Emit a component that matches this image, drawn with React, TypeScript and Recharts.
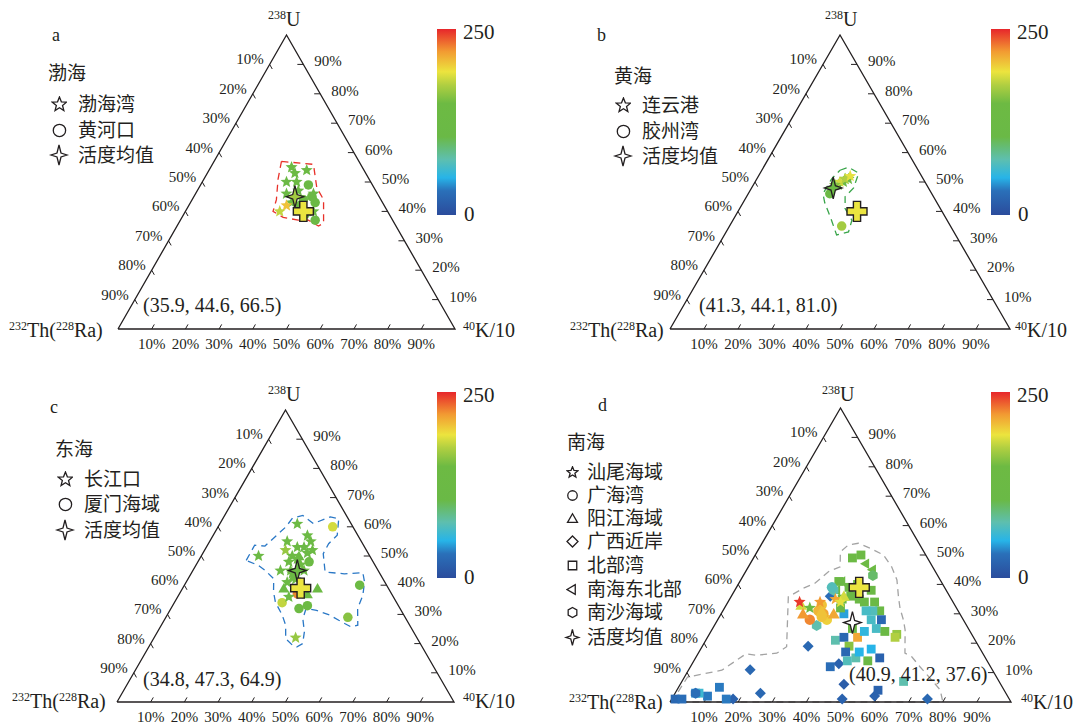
import React from 'react';
import { ScatterChart, Scatter, XAxis, YAxis } from 'recharts';

const SERIF = '"Liberation Serif", "Times New Roman", serif';
const CJK = '"Liberation Serif", "Noto Sans CJK SC", "Noto Sans CJK JP", serif';
const INK = '#231f20';

const TICK_LABELS = ['10%', '20%', '30%', '40%', '50%', '60%', '70%', '80%', '90%'];
const SCALE_MAX = 250;

// colour bar stops, bottom (0) to top (1)
const CMAP_STOPS: [number, string][] = [
  [0, '#2b4c9c'],
  [0.13, '#2a70b9'],
  [0.2, '#27b4e8'],
  [0.3, '#5ebfae'],
  [0.42, '#6ab946'],
  [0.6, '#6dba43'],
  [0.7, '#b1cf41'],
  [0.77, '#ece43e'],
  [0.88, '#f29a32'],
  [1, '#e7262b'],
];

// points are [U %, K/10 %, activity]; Th makes up the rest
const BOHAI_BAY = [
  [55, 24, 130], [53, 26, 140], [54, 29, 130], [50, 25, 125], [50, 28, 130], [46, 27, 135],
  [46, 35, 125], [43, 30, 145], [42, 29, 205], [40, 28, 180], [40, 38, 130], [47, 30, 125],
];
const YELLOW_RIVER_MOUTH = [
  [49, 32, 125], [43, 37, 125], [45, 35, 125], [37, 40, 125], [42, 33, 120], [39, 36, 125], [44, 33, 130],
];
const BOHAI_MEAN = [45, 30, 170];
const BOHAI_CROSS = [40, 35];
const BOHAI_OUTLINE = [
  [57, 20], [56, 30], [48, 35], [44, 39], [36, 43], [35, 42], [37, 38], [37, 35], [38, 30], [40, 26], [44, 25], [51, 22],
];

const LIANYUNGANG = [
  [49, 25, 130], [50, 26, 125], [51, 26, 130], [51, 27, 140], [50, 25, 185], [51, 26, 175], [52, 27, 190], [49, 24, 160],
];
const JIAOZHOU_BAY = [[46, 24, 125], [35, 33, 170]];
const YELLOW_MEAN = [48, 24, 130];
const YELLOW_CROSS = [40, 35];
const YELLOW_OUTLINE = [
  [54, 23], [55, 25], [53, 29], [48, 30], [45, 29], [41, 31], [37, 35], [33, 36], [32, 33], [37, 29], [43, 24], [46, 22], [51, 22],
];

const YANGTZE_MOUTH = [
  [61, 23, 130], [57, 28, 130], [55, 23, 130], [55, 30, 130], [53, 27, 130], [52, 24, 165], [52, 32, 135],
  [50, 17, 130], [50, 27, 130], [51, 31, 130], [49, 29, 130], [48, 27, 130], [45, 26, 130], [45, 29, 130],
  [45, 33, 130], [42, 32, 130], [41, 30, 130], [36, 33, 140], [22, 42, 165], [53, 29, 125], [47, 31, 150], [44, 30, 140],
];
const XIAMEN = [
  [60, 34, 185], [48, 33, 130], [40, 52, 135], [34, 32, 180], [32, 38, 150], [33, 40, 145], [29, 54, 160], [37, 35, 225],
];
const EAST_TRIANGLES = [[39, 40, 140], [39, 30, 135], [37, 38, 130], [50, 29, 135], [43, 31, 130]];
const EAST_MEAN = [45, 31, 135];
const EAST_CROSS = [39, 35];
const EAST_OUTLINE = [
  [48.5, 14.1], [53.7, 14], [53.4, 17.2], [59.9, 20.1], [63, 20.6], [63.9, 23.2], [61.1, 27.7], [63.4, 31.6],
  [62.8, 34.4], [57.1, 36.8], [54.2, 35.7], [50.8, 35.8], [44.5, 39.5], [43.9, 45.5], [44.3, 50.8], [41.1, 52.9],
  [36.5, 54.7], [32, 55.4], [26.3, 58.3], [25.7, 56.6], [28, 51.8], [29.7, 48.4], [31.4, 43.5], [32, 40.1],
  [28.5, 40.9], [24, 43.6], [20, 45.1], [18.8, 43.9], [19.4, 42.4], [21.7, 39.2], [26.3, 36.9], [29.7, 34.2],
  [34.2, 29.9], [37.7, 27.6], [42.2, 25.4], [45.1, 21.4], [46.8, 18.5],
];

const SHANWEI = [[34, 21, 245], [34, 27, 220], [35, 31, 215], [32, 25, 130], [34, 33, 190]];
const GUANGHAI_BAY = [[39, 28, 70], [28, 27, 225], [28, 32, 200], [33, 28, 205], [31, 28, 210], [30, 30, 215], [29, 30, 205]];
const YANGJIANG = [[33, 22, 185], [30, 24, 220], [31, 29, 205], [30, 33, 215], [36, 33, 185]];
const GUANGXI = [
  [19, 31, 25], [13, 43, 20], [6, 48, 15], [2, 59, 20], [1, 75, 25], [1, 18, 20], [11, 18, 25], [3, 25, 25], [1, 50, 20], [36, 29, 30],
];
const BEIBU_GULF = [
  [49, 29, 130], [50, 31, 130], [41, 29, 125], [39, 33, 120], [40, 35, 125], [38, 40, 125], [35, 38, 120],
  [34, 43, 120], [31, 46, 115], [35, 33, 120], [36, 35, 115], [30, 36, 45], [28, 45, 65], [25, 48, 65],
  [28, 48, 25], [24, 51, 120], [23, 55, 165], [22, 55, 175], [22, 44, 215], [21, 38, 75], [22, 40, 25],
  [19, 43, 160], [18, 50, 50], [17, 43, 25], [15, 47, 75], [15, 54, 20], [14, 51, 115], [12, 41, 30],
  [4, 59, 20], [7, 65, 75], [1, 1, 25], [1, 3, 30], [3, 6, 40], [2, 10, 35], [5, 12, 35], [1, 16, 35],
  [34, 40, 120], [14, 45, 70], [17, 47, 50], [31, 44, 70], [31, 42, 65], [24, 45, 55], [25, 41, 120],
  [32, 34, 125], [3, 7, 60],
];
const NE_SOUTH_SEA = [[47, 34, 130], [45, 37, 130], [41, 30, 125], [38, 30, 140]];
const NANSHA = [[43, 38, 95], [26, 30, 75], [38, 29, 75], [3, 6, 30]];
const SOUTH_MEAN = [27, 40];
const SOUTH_CROSS = [39, 36];
const SOUTH_OUTLINE = [
  [0, 0.5], [8.5, 0.9], [10.8, 9.8], [16.4, 14.1], [15.9, 17.4], [16.6, 23], [18.8, 24.8], [35.8, 16.8],
  [38.7, 19.8], [40.4, 22.3], [44.3, 24.3], [46, 26.9], [51.1, 24.4], [53.4, 25.6], [54, 28.2], [52.3, 32.6],
  [50, 37.6], [46, 42], [41.5, 45.8], [35.8, 49.1], [31.9, 51.5], [27.9, 54.5], [24.5, 56.7], [16.6, 60.6],
  [15.4, 63.2], [12, 67.3], [8.1, 72.2], [4.1, 77.2], [0, 80],
];

const hexToRgb = (h: string) => [1, 3, 5].map((i) => parseInt(h.slice(i, i + 2), 16));

function activityColor(v: number) {
  const t = Math.max(0, Math.min(1, v / SCALE_MAX));
  for (let i = 1; i < CMAP_STOPS.length; i++) {
    const [t1, c1] = CMAP_STOPS[i];
    const [t0, c0] = CMAP_STOPS[i - 1];
    if (t <= t1) {
      const f = (t - t0) / (t1 - t0 || 1);
      const a = hexToRgb(c0);
      const b = hexToRgb(c1);
      const c = a.map((x, k) => Math.round(x + (b[k] - x) * f));
      return `rgb(${c[0]},${c[1]},${c[2]})`;
    }
  }
  return CMAP_STOPS[CMAP_STOPS.length - 1][1];
}

const toPoint = (p: number[]) => ({
  x: (p[1] + p[0] / 2) / 100,
  y: p[0] / 100,
  fill: p.length > 2 ? activityColor(p[2]) : '#ffffff',
});

const polyPath = (pts: number[][]) => 'M' + pts.map((p) => `${p[0].toFixed(2)},${p[1].toFixed(2)}`).join('L') + 'Z';

function regular(cx: number, cy: number, n: number, R: number, rot: number) {
  const pts: number[][] = [];
  for (let i = 0; i < n; i++) {
    const a = ((rot + (360 / n) * i) * Math.PI) / 180;
    pts.push([cx + R * Math.cos(a), cy + R * Math.sin(a)]);
  }
  return pts;
}

function starPts(cx: number, cy: number, R: number, r: number) {
  const pts: number[][] = [];
  for (let i = 0; i < 10; i++) {
    const a = ((-90 + 36 * i) * Math.PI) / 180;
    const rr = i % 2 ? r : R;
    pts.push([cx + rr * Math.cos(a), cy + rr * Math.sin(a)]);
  }
  return pts;
}

function markerPath(kind: string, cx: number, cy: number, s: number) {
  switch (kind) {
    case 'star':
      return polyPath(starPts(cx, cy, s * 1.15, s * 0.5));
    case 'tri':
      return polyPath(regular(cx, cy + s * 0.2, 3, s * 1.15, -90));
    case 'tl':
      return polyPath(regular(cx, cy, 3, s * 1.1, 180));
    case 'dia':
      return polyPath([[cx, cy - s * 1.1], [cx + s * 1.1, cy], [cx, cy + s * 1.1], [cx - s * 1.1, cy]]);
    case 'sq':
      return polyPath([[cx - s * 0.85, cy - s * 0.85], [cx + s * 0.85, cy - s * 0.85], [cx + s * 0.85, cy + s * 0.85], [cx - s * 0.85, cy + s * 0.85]]);
    case 'hex':
      return polyPath(regular(cx, cy, 6, s, -90));
    case 'mean': {
      const rx = s * 0.8, ry = s, i = s * 0.2;
      return polyPath([[cx, cy - ry], [cx + i, cy - i], [cx + rx, cy], [cx + i, cy + i], [cx, cy + ry], [cx - i, cy + i], [cx - rx, cy], [cx - i, cy - i]]);
    }
    case 'cross': {
      const a = s, w = s * 0.36;
      return polyPath([[cx - w, cy - a], [cx + w, cy - a], [cx + w, cy - w], [cx + a, cy - w], [cx + a, cy + w], [cx + w, cy + w], [cx + w, cy + a], [cx - w, cy + a], [cx - w, cy + w], [cx - a, cy + w], [cx - a, cy - w], [cx - w, cy - w]]);
    }
    default: {
      const r = s * 0.95;
      return `M${cx - r},${cy}a${r},${r} 0 1,0 ${2 * r},0a${r},${r} 0 1,0 ${-2 * r},0Z`;
    }
  }
}

const makeShape = (kind: string, size: number) => (props: any) => {
  const { cx, cy, payload } = props;
  if (cx == null || cy == null) return <g />;
  return <path d={markerPath(kind, cx, cy, size)} fill={payload.fill} stroke="none" />;
};

const EmptyShape = () => <g />;

const TICK_DATA = TICK_LABELS.flatMap((label, i) => {
  const f = (i + 1) / 10;
  return [
    { x: f, y: 0, side: 'bottom', label },
    { x: (1 - f) / 2, y: 1 - f, side: 'left', label },
    { x: 1 - f / 2, y: f, side: 'right', label },
  ];
});

const TickShape = (props: any) => {
  const { cx, cy, payload } = props;
  const txt = { fontFamily: SERIF, fontSize: 15, fill: INK, dominantBaseline: 'central' as const };
  if (payload.side === 'bottom') {
    return (
      <g>
        <line x1={cx} y1={cy} x2={cx + 2.6} y2={cy - 4.6} stroke={INK} strokeWidth={1} />
        <text x={cx} y={cy + 15} textAnchor="middle" {...txt}>{payload.label}</text>
      </g>
    );
  }
  if (payload.side === 'left') {
    return (
      <g>
        <line x1={cx} y1={cy} x2={cx + 2.6} y2={cy + 4.6} stroke={INK} strokeWidth={1} />
        <text x={cx - 6} y={cy - 5} textAnchor="end" {...txt}>{payload.label}</text>
      </g>
    );
  }
  return (
    <g>
      <line x1={cx} y1={cy} x2={cx - 6} y2={cy} stroke={INK} strokeWidth={1} />
      <text x={cx + 11} y={cy - 3} textAnchor="start" {...txt}>{payload.label}</text>
    </g>
  );
};

const TRIANGLE = [[0, 0], [100, 0], [0, 100], [0, 0]];

interface Group { kind: string; pts: number[][]; size: number }

interface TernaryProps {
  left: number; right: number; apex: number; base: number;
  outline: number[][]; outlineColor: string;
  groups: Group[];
  mean: number[]; cross: number[];
}

const TernaryPanel: React.FC<TernaryProps> = ({ left, right, apex, base, outline, outlineColor, groups, mean, cross }) => {
  const ml = 80, mr = 80, mt = 30, mb = 30;
  const triangle = TRIANGLE.map((p) => toPoint([p[0], p[1]]));
  return (
    <div style={{ position: 'absolute', left: left - ml, top: apex - mt }}>
      <ScatterChart
        width={right - left + ml + mr}
        height={base - apex + mt + mb}
        margin={{ top: mt, right: mr, bottom: mb, left: ml }}
      >
        <XAxis type="number" dataKey="x" domain={[0, 1]} hide />
        <YAxis type="number" dataKey="y" domain={[0, 1]} hide />
        <Scatter
          data={[...outline, outline[0]].map(toPoint)}
          line={{ stroke: outlineColor, strokeWidth: 1.3, strokeDasharray: '7 5' }}
          shape={EmptyShape}
          isAnimationActive={false}
        />
        <Scatter
          data={triangle}
          line={{ stroke: INK, strokeWidth: 1.3 }}
          shape={EmptyShape}
          isAnimationActive={false}
        />
        <Scatter data={TICK_DATA} shape={TickShape} isAnimationActive={false} />
        {groups.map((g, i) => (
          <Scatter key={i} data={g.pts.map(toPoint)} shape={makeShape(g.kind, g.size)} isAnimationActive={false} />
        ))}
        <Scatter
          data={[toPoint(mean)]}
          shape={(p: any) => <path d={markerPath('mean', p.cx, p.cy, 11)} fill={p.payload.fill} stroke={INK} strokeWidth={1.3} />}
          isAnimationActive={false}
        />
        <Scatter
          data={[toPoint(cross)]}
          shape={(p: any) => <path d={markerPath('cross', p.cx, p.cy, 10)} fill="#ebe540" stroke={INK} strokeWidth={1.4} />}
          isAnimationActive={false}
        />
      </ScatterChart>
    </div>
  );
};

const Abs: React.FC<{ x: number; y: number; size: number; font?: string; children: React.ReactNode }> = ({ x, y, size, font = SERIF, children }) => (
  <div style={{ position: 'absolute', left: x, top: y, transform: 'translateY(-50%)', fontFamily: font, fontSize: size, color: INK, lineHeight: 1, whiteSpace: 'nowrap' }}>
    {children}
  </div>
);

const Sup: React.FC<{ children: React.ReactNode }> = ({ children }) => (
  <span style={{ fontSize: 12, position: 'relative', top: -7 }}>{children}</span>
);

const LegendIcon: React.FC<{ kind: string; size: number }> = ({ kind, size }) => {
  const box = size * 2.6;
  const c = box / 2;
  return (
    <svg width={box} height={box} style={{ display: 'block' }}>
      <path d={markerPath(kind, c, c, size)} fill="none" stroke={INK} strokeWidth={1.3} />
    </svg>
  );
};

const LegendRow: React.FC<{ mx: number; tx: number; y: number; kind: string; size: number; text: string }> = ({ mx, tx, y, kind, size, text }) => (
  <>
    <div style={{ position: 'absolute', left: mx - size * 1.3, top: y - size * 1.3 }}>
      <LegendIcon kind={kind} size={size} />
    </div>
    <Abs x={tx} y={y} size={19} font={CJK}>{text}</Abs>
  </>
);

const ColorBar: React.FC<{ x: number; top: number }> = ({ x, top }) => (
  <>
    <div
      style={{
        position: 'absolute', left: x, top, width: 19, height: 186,
        background: `linear-gradient(to top, ${CMAP_STOPS.map(([t, c]) => `${c} ${t * 100}%`).join(', ')})`,
      }}
    />
    <Abs x={x + 26} y={top + 3} size={21}>{SCALE_MAX}</Abs>
    <Abs x={x + 27} y={top + 185} size={21}>0</Abs>
  </>
);

const VertexLabels: React.FC<{ ux: number; uy: number; thx: number; kx: number; by: number }> = ({ ux, uy, thx, kx, by }) => (
  <>
    <Abs x={ux} y={uy} size={20}><Sup>238</Sup>U</Abs>
    <Abs x={thx} y={by} size={20}><Sup>232</Sup>Th(<Sup>228</Sup>Ra)</Abs>
    <Abs x={kx} y={by} size={20}><Sup>40</Sup>K/10</Abs>
  </>
);

export default function App() {
  return (
    <div style={{ position: 'absolute', left: 0, top: 0, width: 1076, height: 724, overflow: 'hidden', background: '#ffffff' }}>
      {/* a 渤海 */}
      <TernaryPanel
        left={118} right={455} apex={35} base={329}
        outline={BOHAI_OUTLINE} outlineColor="#e8312a"
        groups={[
          { kind: 'circle', pts: YELLOW_RIVER_MOUTH, size: 5 },
          { kind: 'star', pts: BOHAI_BAY, size: 5.5 },
        ]}
        mean={BOHAI_MEAN} cross={BOHAI_CROSS}
      />
      <Abs x={52} y={35} size={18}>a</Abs>
      <Abs x={48} y={73} size={19} font={CJK}>渤海</Abs>
      <LegendRow mx={59} tx={78} y={104} kind="star" size={6.5} text="渤海湾" />
      <LegendRow mx={59} tx={78} y={130} kind="circle" size={6.5} text="黄河口" />
      <LegendRow mx={59} tx={78} y={155} kind="mean" size={10} text="活度均值" />
      <ColorBar x={437} top={29} />
      <VertexLabels ux={268} uy={19} thx={9} kx={463} by={330} />
      <Abs x={143} y={305} size={20}>(35.9, 44.6, 66.5)</Abs>

      {/* b 黄海 */}
      <TernaryPanel
        left={670} right={1010} apex={35} base={329}
        outline={YELLOW_OUTLINE} outlineColor="#39a54a"
        groups={[
          { kind: 'circle', pts: JIAOZHOU_BAY, size: 5 },
          { kind: 'star', pts: LIANYUNGANG, size: 5.5 },
        ]}
        mean={YELLOW_MEAN} cross={YELLOW_CROSS}
      />
      <Abs x={597} y={35} size={18}>b</Abs>
      <Abs x={614} y={76} size={19} font={CJK}>黄海</Abs>
      <LegendRow mx={623} tx={642} y={105} kind="star" size={6.5} text="连云港" />
      <LegendRow mx={623} tx={642} y={131} kind="circle" size={6.5} text="胶州湾" />
      <LegendRow mx={623} tx={642} y={156} kind="mean" size={10} text="活度均值" />
      <ColorBar x={991} top={29} />
      <VertexLabels ux={825} uy={19} thx={570} kx={1015} by={330} />
      <Abs x={699} y={305} size={20}>(41.3, 44.1, 81.0)</Abs>

      {/* c 东海 */}
      <TernaryPanel
        left={117} right={454} apex={410} base={702}
        outline={EAST_OUTLINE} outlineColor="#2a78c6"
        groups={[
          { kind: 'circle', pts: XIAMEN, size: 5 },
          { kind: 'tri', pts: EAST_TRIANGLES, size: 5.5 },
          { kind: 'star', pts: YANGTZE_MOUTH, size: 5.5 },
        ]}
        mean={EAST_MEAN} cross={EAST_CROSS}
      />
      <Abs x={50} y={407} size={18}>c</Abs>
      <Abs x={55} y={449} size={19} font={CJK}>东海</Abs>
      <LegendRow mx={65} tx={84} y={479} kind="star" size={6.5} text="长江口" />
      <LegendRow mx={65} tx={84} y={504} kind="circle" size={6.5} text="厦门海域" />
      <LegendRow mx={65} tx={84} y={530} kind="mean" size={10} text="活度均值" />
      <ColorBar x={437} top={392} />
      <VertexLabels ux={268} uy={394} thx={12} kx={463} by={701} />
      <Abs x={143} y={679} size={20}>(34.8, 47.3, 64.9)</Abs>

      {/* d 南海 */}
      <TernaryPanel
        left={670} right={1011} apex={408} base={702}
        outline={SOUTH_OUTLINE} outlineColor="#a3a3a3"
        groups={[
          { kind: 'dia', pts: GUANGXI, size: 5 },
          { kind: 'sq', pts: BEIBU_GULF, size: 5.2 },
          { kind: 'tl', pts: NE_SOUTH_SEA, size: 5.5 },
          { kind: 'hex', pts: NANSHA, size: 5.5 },
          { kind: 'circle', pts: GUANGHAI_BAY, size: 5.5 },
          { kind: 'tri', pts: YANGJIANG, size: 6 },
          { kind: 'star', pts: SHANWEI, size: 5.5 },
        ]}
        mean={SOUTH_MEAN} cross={SOUTH_CROSS}
      />
      <Abs x={598} y={405} size={18}>d</Abs>
      <Abs x={567} y={442} size={19} font={CJK}>南海</Abs>
      <LegendRow mx={572} tx={587} y={472} kind="star" size={5} text="汕尾海域" />
      <LegendRow mx={572} tx={587} y={495} kind="circle" size={5} text="广海湾" />
      <LegendRow mx={572} tx={587} y={518} kind="tri" size={5} text="阳江海域" />
      <LegendRow mx={572} tx={587} y={541} kind="dia" size={5} text="广西近岸" />
      <LegendRow mx={572} tx={587} y={565} kind="sq" size={5} text="北部湾" />
      <LegendRow mx={572} tx={587} y={589} kind="tl" size={5} text="南海东北部" />
      <LegendRow mx={572} tx={587} y={612} kind="hex" size={5} text="南沙海域" />
      <LegendRow mx={572} tx={587} y={637} kind="mean" size={8} text="活度均值" />
      <ColorBar x={991} top={392} />
      <VertexLabels ux={822} uy={394} thx={569} kx={1021} by={702} />
      <Abs x={849} y={674} size={20}>(40.9, 41.2, 37.6)</Abs>
    </div>
  );
}
